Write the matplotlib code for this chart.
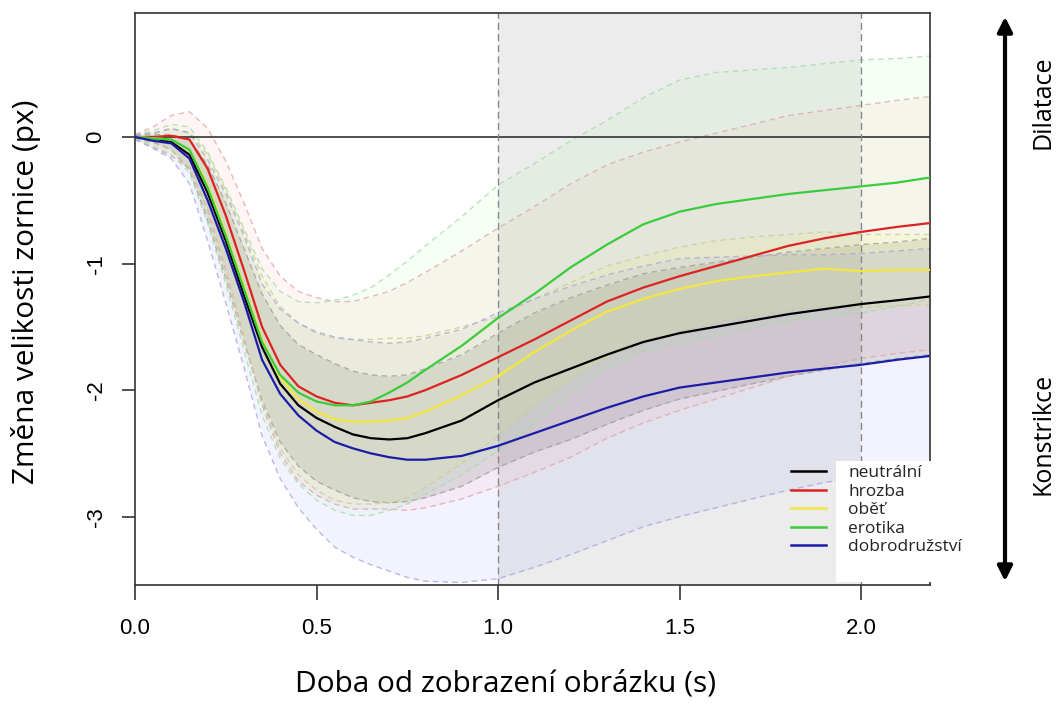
import numpy as np
import matplotlib
matplotlib.use("Agg")
import matplotlib.pyplot as plt
from matplotlib.patches import Rectangle, FancyArrowPatch
from matplotlib.lines import Line2D

# time since picture onset (s)
t = [0, 0.05, 0.1, 0.15, 0.2, 0.25, 0.3, 0.35, 0.4, 0.45, 0.5, 0.55, 0.6, 0.65, 0.7, 0.75,
     0.8, 0.9, 1.0, 1.1, 1.2, 1.3, 1.4, 1.5, 1.6, 1.7, 1.8, 1.9, 2.0, 2.1, 2.19]

# mean pupil size change (px) per condition
neutralni = [0, -0.01, -0.04, -0.14, -0.44, -0.82, -1.25, -1.66, -1.95, -2.12, -2.22, -2.29, -2.35, -2.38, -2.39, -2.38,
             -2.34, -2.24, -2.08, -1.94, -1.83, -1.72, -1.62, -1.55, -1.50, -1.45, -1.40, -1.36, -1.32, -1.29, -1.26]
hrozba = [0, 0.0, 0.01, -0.02, -0.25, -0.62, -1.05, -1.50, -1.80, -1.97, -2.05, -2.10, -2.12, -2.10, -2.08, -2.05,
          -2.00, -1.88, -1.74, -1.60, -1.45, -1.30, -1.19, -1.10, -1.02, -0.94, -0.86, -0.80, -0.75, -0.71, -0.68]
obet = [0, -0.01, -0.02, -0.10, -0.38, -0.76, -1.18, -1.60, -1.90, -2.07, -2.17, -2.23, -2.25, -2.25, -2.24, -2.22,
        -2.17, -2.04, -1.89, -1.70, -1.53, -1.38, -1.28, -1.20, -1.14, -1.10, -1.07, -1.04, -1.06, -1.05, -1.05]
erotika = [0, -0.01, -0.02, -0.10, -0.40, -0.78, -1.20, -1.62, -1.88, -2.02, -2.09, -2.12, -2.12, -2.09, -2.02, -1.94,
           -1.84, -1.65, -1.43, -1.24, -1.03, -0.85, -0.69, -0.59, -0.53, -0.49, -0.45, -0.42, -0.39, -0.36, -0.32]
dobrodruzstvi = [0, -0.03, -0.05, -0.17, -0.50, -0.88, -1.30, -1.76, -2.03, -2.20, -2.32, -2.41, -2.46, -2.50, -2.53, -2.55,
                 -2.55, -2.52, -2.44, -2.34, -2.24, -2.14, -2.05, -1.98, -1.94, -1.90, -1.86, -1.83, -1.80, -1.76, -1.73]

# half width of the confidence band
ci_neutralni = [0.01, 0.03, 0.06, 0.12, 0.22, 0.30, 0.37, 0.42, 0.46, 0.48, 0.50, 0.50, 0.50, 0.50, 0.50, 0.50,
                0.51, 0.52, 0.53, 0.55, 0.56, 0.55, 0.54, 0.52, 0.51, 0.50, 0.49, 0.48, 0.47, 0.46, 0.46]
ci_hrozba = [0.02, 0.08, 0.16, 0.22, 0.32, 0.43, 0.53, 0.62, 0.70, 0.75, 0.78, 0.80, 0.82, 0.84, 0.86, 0.90,
             0.93, 0.98, 1.02, 1.05, 1.08, 1.08, 1.07, 1.06, 1.05, 1.04, 1.03, 1.01, 1.00, 1.00, 1.00]
ci_obet = [0.02, 0.04, 0.08, 0.14, 0.24, 0.34, 0.43, 0.50, 0.56, 0.60, 0.62, 0.64, 0.65, 0.65, 0.65, 0.63,
           0.60, 0.54, 0.47, 0.42, 0.38, 0.36, 0.34, 0.33, 0.32, 0.31, 0.30, 0.29, 0.29, 0.28, 0.28]
ci_erotika = [0.02, 0.06, 0.12, 0.18, 0.28, 0.38, 0.48, 0.58, 0.66, 0.72, 0.78, 0.83, 0.87, 0.90, 0.93, 0.96,
              0.98, 1.02, 1.05, 1.03, 1.00, 0.98, 1.00, 1.04, 1.04, 1.02, 1.00, 1.00, 1.00, 0.98, 0.96]
ci_dobrodruzstvi = [0.02, 0.06, 0.12, 0.20, 0.32, 0.43, 0.52, 0.60, 0.67, 0.73, 0.78, 0.83, 0.86, 0.88, 0.90, 0.93,
                    0.96, 1.00, 1.05, 1.06, 1.06, 1.05, 1.03, 1.02, 0.99, 0.96, 0.93, 0.90, 0.88, 0.86, 0.85]

labels = ["neutrální", "hrozba", "oběť", "erotika", "dobrodružství"]
line_colors = ["#000000", "#dd2222", "#f2e640", "#3bcc3b", "#1c1ca8"]
fill_colors = ["#707060", "#ff8080", "#ffff40", "#80ff80", "#8080ff"]
fill_alpha = [0.18, 0.08, 0.11, 0.08, 0.09]
edge_colors = ["#a0a0a0", "#e0a8a8", "#cccc98", "#a8dca8", "#a8a8e0"]

means = [neutralni, hrozba, obet, erotika, dobrodruzstvi]
cis = [ci_neutralni, ci_hrozba, ci_obet, ci_erotika, ci_dobrodruzstvi]

fig = plt.figure(figsize=(10.56, 7.11), dpi=100)
ax = fig.add_axes([135/1056, 1 - 585/711, 795/1056, 572/711])

ax.axvspan(1.0, 2.0, color="#ececec", zorder=0, lw=0)

x = np.array(t)
for m, c, fc, fa, ec in zip(means, cis, fill_colors, fill_alpha, edge_colors):
    m = np.array(m)
    c = np.array(c)
    ax.fill_between(x, m - c, m + c, color=fc, alpha=fa, lw=0, zorder=1)
    ax.plot(x, m + c, color=ec, lw=1, ls=(0, (4, 3)), alpha=0.8, zorder=1.5)
    ax.plot(x, m - c, color=ec, lw=1, ls=(0, (4, 3)), alpha=0.8, zorder=1.5)

ax.axhline(0, color="#333333", lw=1.2, zorder=2)
ax.axvline(1.0, color="#888888", lw=1, ls=(0, (5, 3)), zorder=2)
ax.axvline(2.0, color="#888888", lw=1, ls=(0, (5, 3)), zorder=2)

for m, lc in zip(means, line_colors):
    ax.plot(x, m, color=lc, lw=1.6, zorder=3)

ax.set_xlim(0, 2.19)
ax.set_ylim(-3.54, 0.98)
ax.set_xticks([0, 0.5, 1.0, 1.5, 2.0])
ax.set_xticklabels(["0.0", "0.5", "1.0", "1.5", "2.0"], family="Liberation Sans", fontsize=16)
ax.set_yticks([0, -1, -2, -3])
ax.set_yticklabels(["0", "-1", "-2", "-3"], family="Liberation Sans", fontsize=16,
                   rotation=90, va="center")
ax.tick_params(axis="x", length=10.5, width=1.2, pad=13, color="#333333")
ax.tick_params(axis="y", length=9.5, width=1.2, pad=11, color="#333333")
for s in ax.spines.values():
    s.set_color("#333333")
    s.set_linewidth(1.2)

fig.text(26/1056, 1 - 292/711, "Změna velikosti zornice (px)", rotation=90,
         ha="center", va="center", family="Open Sans", fontsize=21.5)
fig.text(506/1056, 1 - 684/711, "Doba od zobrazení obrázku (s)",
         ha="center", va="center", family="Open Sans", fontsize=21.5)

# white box behind the legend text
fig.add_artist(Rectangle((836/1056, 1 - 582/711), 127/1056, 121/711,
                         transform=fig.transFigure, facecolor="white", edgecolor="none", zorder=2))
handles = [Line2D([], [], color=c, lw=1.8) for c in line_colors]
leg = fig.legend(handles, labels, loc="upper left", bbox_to_anchor=(791/1056, 1 - 465/711),
                 frameon=False, prop={"family": "Open Sans", "size": 12.5},
                 handlelength=2.0, handletextpad=1.3, labelspacing=0.14,
                 borderpad=0, borderaxespad=0)
leg.set_zorder(5)
for txt in leg.get_texts():
    txt.set_color("#222222")

# dilation / constriction arrow
fig.add_artist(FancyArrowPatch((1005/1056, 1 - 14/711), (1005/1056, 1 - 584/711),
                               transform=fig.transFigure, arrowstyle="<|-|>",
                               mutation_scale=22, lw=3, color="black"))
fig.text(1043/1056, 1 - 102/711, "Dilatace", rotation=90, ha="center", va="center",
         family="Open Sans", fontsize=18)
fig.text(1043/1056, 1 - 434/711, "Konstrikce", rotation=90, ha="center", va="center",
         family="Open Sans", fontsize=18)

fig.savefig("out.png", dpi=100)
